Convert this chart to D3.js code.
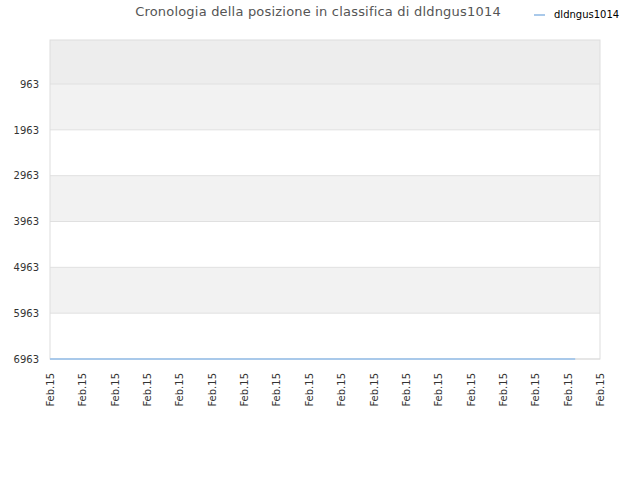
<!DOCTYPE html>
<html>
<head>
<meta charset="utf-8">
<script src="https://cdn.jsdelivr.net/npm/d3@7"></script>
<style>
    body { margin: 0; background: #fff; }
    svg { display: block; font-family: "DejaVu Sans", sans-serif; }
</style>
</head>
<body>
<div id="chart"></div>
<script>
// ranking history of one player, all on the same day
const seriesName = "dldngus1014";
const dates = [
    "2015-02-15T00:00", "2015-02-15T02:00", "2015-02-15T04:00", "2015-02-15T06:00",
    "2015-02-15T08:00", "2015-02-15T10:00", "2015-02-15T12:00", "2015-02-15T14:00",
    "2015-02-15T16:14"
];
const ranks = [6963, 6963, 6963, 6963, 6963, 6963, 6963, 6963, 6963];
const rankTicks = [963, 1963, 2963, 3963, 4963, 5963, 6963];
const rankDomain = [3, 6963];
const xStart = "2015-02-15T00:00";
const xEnd = "2015-02-15T17:00";
const xTickLabel = "Feb.15";

const width = 640;
const height = 480;
const margin = { left: 50, top: 40, right: 40, bottom: 121 };
const lineColor = "#a9c9ea";

const parse = d3.timeParse("%Y-%m-%dT%H:%M");
const data = dates.map((d, i) => ({ date: parse(d), rank: ranks[i] }));

const svg = d3.select("#chart")
    .append("svg")
    .attr("width", width)
    .attr("height", height);

const x = d3.scaleTime()
    .domain([parse(xStart), parse(xEnd)])
    .range([margin.left, width - margin.right]);

const y = d3.scaleLinear()
    .domain(rankDomain)
    .range([margin.top, height - margin.bottom]);

// alternating bands between the ticks
const edges = [rankDomain[0], ...rankTicks];
const bandFill = ["#ededed", "#f2f2f2", "#ffffff"];
svg.selectAll(".band")
    .data(d3.pairs(edges))
    .join("rect")
        .attr("class", "band")
        .attr("x", margin.left)
        .attr("y", d => y(d[0]))
        .attr("width", width - margin.right - margin.left)
        .attr("height", d => y(d[1]) - y(d[0]))
        .attr("fill", (d, i) => i === 0 ? bandFill[0] : (i % 2 ? bandFill[1] : bandFill[2]));

svg.selectAll(".grid")
    .data(rankTicks)
    .join("line")
        .attr("class", "grid")
        .attr("x1", margin.left)
        .attr("x2", width - margin.right)
        .attr("y1", d => y(d))
        .attr("y2", d => y(d))
        .attr("stroke", "#e0e0e0")
        .attr("stroke-width", 1);

svg.append("rect")
    .attr("x", margin.left)
    .attr("y", margin.top)
    .attr("width", width - margin.right - margin.left)
    .attr("height", y(rankDomain[1]) - margin.top)
    .attr("fill", "none")
    .attr("stroke", "#dddddd")
    .attr("stroke-width", 1);

// y axis labels
const yAxis = svg.append("g")
    .attr("transform", `translate(${margin.left},0)`)
    .call(d3.axisLeft(y).tickValues(rankTicks).tickFormat(d3.format("d")).tickSize(0).tickPadding(11));
yAxis.select(".domain").remove();
yAxis.selectAll("text")
    .style("font-family", "DejaVu Sans")
    .style("font-size", "10px")
    .attr("fill", "#333");

// x axis labels, rotated
const xTicks = d3.range(18).map(h => d3.timeHour.offset(parse(xStart), h));
const xAxis = svg.append("g")
    .attr("transform", `translate(0,${y(rankDomain[1])})`)
    .call(d3.axisBottom(x).tickValues(xTicks).tickFormat(() => xTickLabel).tickSize(0));
xAxis.select(".domain").remove();
xAxis.selectAll("text")
    .style("font-family", "DejaVu Sans")
    .style("font-size", "10px")
    .attr("fill", "#333")
    .attr("text-anchor", "end")
    .attr("transform", "translate(0,14) rotate(-90)")
    .attr("x", 0)
    .attr("y", 0)
    .attr("dy", "0.35em");

const line = d3.line()
    .x(d => x(d.date))
    .y(d => y(d.rank));

svg.append("path")
    .datum(data)
    .attr("d", line)
    .attr("fill", "none")
    .attr("stroke", lineColor)
    .attr("stroke-width", 2);

// title
svg.append("text")
    .attr("x", 318)
    .attr("y", 16)
    .attr("text-anchor", "middle")
    .style("font-size", "13px")
    .style("letter-spacing", "0.2px")
    .attr("fill", "#555")
    .text("Cronologia della posizione in classifica di " + seriesName);

// legend
svg.append("line")
    .attr("x1", 534)
    .attr("x2", 545)
    .attr("y1", 15)
    .attr("y2", 15)
    .attr("stroke", lineColor)
    .attr("stroke-width", 2);

svg.append("text")
    .attr("x", 554)
    .attr("y", 18)
    .style("font-size", "10px")
    .attr("fill", "#000")
    .text(seriesName);
</script>
</body>
</html>
